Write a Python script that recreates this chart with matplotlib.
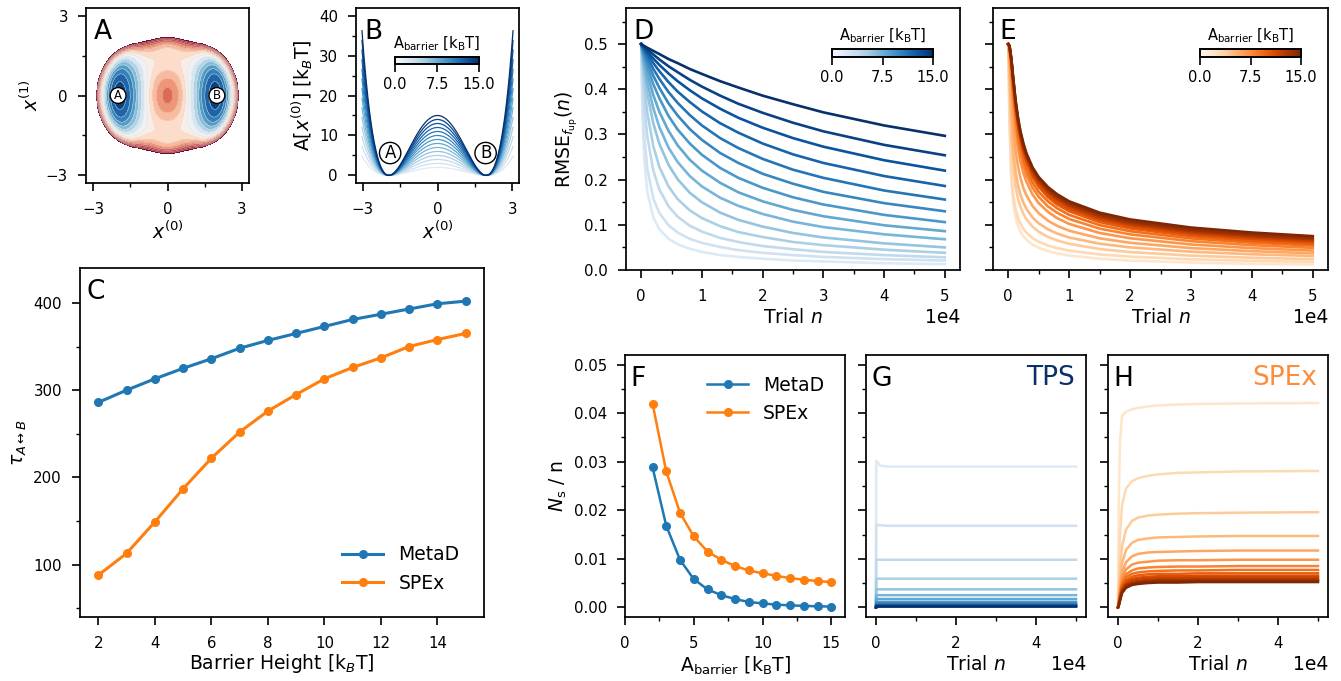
import numpy as np
import matplotlib
matplotlib.use("Agg")
import matplotlib.pyplot as plt
from matplotlib.ticker import MultipleLocator
from matplotlib.colors import Normalize
from matplotlib.cm import ScalarMappable

#%% data
barriers = [2, 3, 4, 5, 6, 7, 8, 9, 10, 11, 12, 13, 14, 15]

# panel C: round trip time
tau_metad = [286, 300, 313, 325, 336, 348, 357, 365, 373, 381, 387, 393, 399, 402]
tau_spex = [88, 113, 149, 187, 222, 252, 276, 295, 313, 326, 337, 350, 358, 365]

# panel F: N_s / n at the end of the run
ns_metad = [0.0289, 0.0168, 0.0098, 0.0058, 0.0037, 0.0025, 0.0017, 0.0011,
            0.0008, 0.00055, 0.0004, 0.0003, 0.0002, 0.00015]
ns_spex = [0.0420, 0.0280, 0.0195, 0.0146, 0.0115, 0.0098, 0.0085, 0.0076,
           0.0070, 0.0065, 0.0060, 0.0057, 0.0054, 0.0052]

# panel D: RMSE of f_up vs trial n, TPS (rows = barriers 2..15)
n_rmse_tps = [0, 200, 500, 1000, 2000, 3000, 4500, 6000, 8000, 10000, 13000,
              16000, 20000, 25000, 30000, 40000, 50000]
rmse_tps = [
    [.5, .345, .246, .174, .116, .090, .069, .057, .047, .040, .033, .029, .025, .021, .019, .015, .013],
    [.5, .388, .299, .225, .158, .126, .099, .083, .069, .060, .051, .044, .038, .033, .029, .024, .021],
    [.5, .435, .368, .296, .220, .178, .141, .118, .098, .085, .071, .062, .053, .046, .040, .033, .028],
    [.5, .458, .409, .349, .274, .228, .185, .157, .132, .115, .097, .084, .073, .062, .055, .045, .038],
    [.5, .473, .438, .391, .324, .279, .233, .201, .171, .150, .127, .111, .096, .082, .072, .059, .050],
    [.5, .480, .453, .415, .358, .316, .271, .239, .208, .185, .160, .142, .124, .107, .095, .079, .068],
    [.5, .485, .465, .435, .387, .350, .308, .276, .244, .220, .193, .172, .152, .133, .119, .099, .086],
    [.5, .489, .474, .451, .411, .380, .341, .311, .280, .255, .226, .204, .182, .161, .145, .122, .106],
    [.5, .492, .480, .462, .430, .403, .369, .342, .312, .288, .259, .237, .213, .191, .173, .148, .130],
    [.5, .494, .485, .471, .445, .423, .394, .370, .343, .320, .292, .270, .246, .222, .204, .176, .156],
    [.5, .495, .489, .478, .458, .440, .416, .395, .372, .351, .325, .304, .280, .256, .237, .208, .186],
    [.5, .497, .492, .483, .468, .454, .435, .418, .398, .380, .357, .337, .315, .292, .273, .243, .220],
    [.5, .498, .494, .488, .477, .466, .451, .438, .421, .406, .386, .368, .348, .326, .307, .277, .254],
    [.5, .498, .496, .492, .485, .478, .467, .458, .445, .434, .418, .404, .386, .367, .349, .320, .297],
]

# panel E: RMSE of f_up vs trial n, SPEx (rows = barriers 2..15)
n_rmse_spex = [0, 200, 500, 800, 1200, 1600, 2000, 2500, 3000, 4000, 5000,
               6500, 8000, 10000, 15000, 20000, 30000, 40000, 50000]
rmse_spex = [
    [.5, .331, .198, .149, .117, .098, .085, .075, .067, .056, .049, .042, .037, .032, .025, .021, .0164, .0137, .012],
    [.5, .343, .217, .168, .135, .116, .103, .091, .0825, .0706, .0626, .0543, .0485, .043, .0345, .0296, .0237, .0203, .018],
    [.5, .427, .293, .230, .185, .158, .140, .124, .112, .0958, .0848, .0734, .0655, .058, .0464, .0397, .0318, .0271, .024],
    [.5, .454, .335, .268, .218, .188, .167, .149, .135, .116, .1035, .0902, .0809, .072, .0582, .0501, .0405, .0348, .031],
    [.5, .480, .393, .323, .265, .229, .204, .181, .165, .1415, .1257, .1094, .0979, .087, .0701, .0602, .0485, .0417, .037],
    [.5, .491, .435, .372, .311, .270, .240, .214, .195, .167, .148, .129, .115, .102, .082, .0703, .0565, .0485, .043],
    [.5, .493, .447, .389, .330, .288, .258, .231, .211, .182, .162, .141, .127, .113, .0916, .0789, .0639, .055, .049],
    [.5, .494, .455, .403, .345, .303, .273, .245, .224, .194, .173, .152, .137, .122, .0994, .0859, .070, .0605, .054],
    [.5, .495, .463, .416, .360, .319, .288, .258, .238, .206, .184, .161, .145, .130, .106, .0919, .075, .0649, .058],
    [.5, .495, .464, .418, .363, .322, .291, .263, .2415, .210, .189, .166, .150, .135, .111, .0966, .0794, .0691, .0621],
    [.5, .496, .466, .422, .369, .328, .298, .269, .249, .217, .195, .172, .156, .140, .115, .101, .083, .0723, .065],
    [.5, .496, .467, .424, .371, .331, .301, .273, .252, .221, .199, .176, .160, .144, .119, .104, .0863, .0755, .068],
    [.5, .496, .468, .426, .374, .335, .305, .277, .256, .225, .203, .180, .164, .148, .123, .108, .0896, .0786, .071],
    [.5, .497, .470, .428, .377, .338, .308, .280, .258, .227, .206, .184, .168, .152, .127, .112, .094, .083, .075],
]

# panel G: TPS N_s / n vs trial n
n_tps = [0, 50, 300, 1000, 3000, 50000]
ns_run_tps = [
    [0, 0.0302, 0.0300, 0.0292, 0.0290, 0.0290],
    [0, 0.0171, 0.0170, 0.0169, 0.0168, 0.0168],
    [0, 0.0099, 0.0098, 0.0098, 0.0098, 0.0098],
    [0, 0.0059, 0.0059, 0.0059, 0.0059, 0.0059],
    [0, 0.0038, 0.0037, 0.0037, 0.0037, 0.0037],
    [0, 0.0025, 0.0025, 0.0025, 0.0025, 0.0025],
    [0, 0.0017, 0.0017, 0.0017, 0.0017, 0.0017],
    [0, 0.0011, 0.0011, 0.0011, 0.0011, 0.0011],
    [0, 0.0008, 0.0008, 0.0008, 0.0008, 0.0008],
    [0, 0.00055, 0.00055, 0.00055, 0.00055, 0.00055],
    [0, 0.0004, 0.0004, 0.0004, 0.0004, 0.0004],
    [0, 0.0003, 0.0003, 0.0003, 0.0003, 0.0003],
    [0, 0.0002, 0.0002, 0.0002, 0.0002, 0.0002],
    [0, 0.00015, 0.00015, 0.00015, 0.00015, 0.00015],
]

# panel H: SPEx N_s / n vs trial n
n_spex = [0, 200, 500, 1000, 2000, 3500, 5000, 7500, 10000, 15000, 20000, 30000, 50000]
ns_run_spex = [
    [0, 0.022, 0.034, 0.0395, 0.0403, 0.0408, 0.0411, 0.0414, 0.0416, 0.0418, 0.0419, 0.0420, 0.0421],
    [0, 0.008, 0.015, 0.021, 0.0245, 0.0260, 0.0266, 0.0271, 0.0274, 0.0277, 0.0278, 0.0280, 0.0281],
    [0, 0.004, 0.008, 0.0125, 0.0160, 0.0178, 0.0185, 0.0189, 0.0191, 0.0193, 0.0194, 0.0195, 0.0196],
    [0, 0.002, 0.005, 0.009, 0.0118, 0.0133, 0.0139, 0.0142, 0.0144, 0.0145, 0.0146, 0.0147, 0.0147],
    [0, 0.0015, 0.004, 0.007, 0.0093, 0.0105, 0.0110, 0.0113, 0.0114, 0.0115, 0.0116, 0.0117, 0.0117],
    [0, 0.0012, 0.0033, 0.006, 0.0078, 0.0088, 0.0092, 0.0094, 0.0096, 0.0097, 0.0097, 0.0098, 0.0098],
    [0, 0.0010, 0.0028, 0.0052, 0.0068, 0.0076, 0.0080, 0.0082, 0.0083, 0.0084, 0.0084, 0.0085, 0.0085],
    [0, 0.0009, 0.0025, 0.0047, 0.0062, 0.0069, 0.0072, 0.0074, 0.0075, 0.0076, 0.0076, 0.0077, 0.0077],
    [0, 0.0008, 0.0022, 0.0042, 0.0056, 0.0063, 0.0066, 0.0068, 0.0069, 0.0069, 0.0070, 0.0070, 0.0070],
    [0, 0.0007, 0.0020, 0.0039, 0.0052, 0.0058, 0.0061, 0.0063, 0.0064, 0.0064, 0.0065, 0.0065, 0.0065],
    [0, 0.0006, 0.0018, 0.0036, 0.0048, 0.0054, 0.0057, 0.0059, 0.0060, 0.0060, 0.0061, 0.0061, 0.0061],
    [0, 0.0005, 0.0016, 0.0033, 0.0045, 0.0050, 0.0053, 0.0055, 0.0056, 0.0056, 0.0057, 0.0057, 0.0057],
    [0, 0.0004, 0.0015, 0.0031, 0.0043, 0.0048, 0.0051, 0.0053, 0.0054, 0.0054, 0.0055, 0.0055, 0.0055],
    [0, 0.0003, 0.0013, 0.0029, 0.0040, 0.0046, 0.0048, 0.0050, 0.0051, 0.0051, 0.0052, 0.0052, 0.0052],
]

# model potential used for the sketches in A and B
pot_a, pot_kappa, pot_c, pot_sig2, pot_s2 = 0.77, 0.25, 0.12, 2.22, 2.0
wall_ax, wall_ay, wall_delta, pot_cut = 3.03, 2.44, 0.09, 1.0
well_w, wall_k = 1.95, 0.0855

#%% style
plt.rcParams.update({
    "font.size": 10.8,
    "axes.labelsize": 13.5,
    "axes.labelpad": 3,
    "xtick.labelsize": 10.8,
    "ytick.labelsize": 10.8,
    "axes.linewidth": 1.25,
    "xtick.major.size": 5.5, "ytick.major.size": 5.5,
    "xtick.minor.size": 3.2, "ytick.minor.size": 3.2,
    "xtick.major.width": 1.2, "ytick.major.width": 1.2,
    "xtick.minor.width": 1.0, "ytick.minor.width": 1.0,
    "xtick.major.pad": 8, "ytick.major.pad": 7.5,
    "legend.fontsize": 13.5,
})

W, H = 1341, 681
fig = plt.figure(figsize=(W / 100, H / 100), dpi=100)


def add_ax(x0, y0, x1, y1, **kw):
    # pixel box (left, top, right, bottom) -> figure fraction
    return fig.add_axes([x0 / W, 1 - y1 / H, (x1 - x0) / W, (y1 - y0) / H], **kw)


def panel_label(ax, s, dx=4.5):
    ax.annotate(s, xy=(0, 1), xycoords="axes fraction", xytext=(dx, -8),
                textcoords="offset points", ha="left", va="top", fontsize=19)


def add_cbar(x0, y0, x1, y1, cmap):
    cax = add_ax(x0, y0, x1, y1)
    cb = fig.colorbar(ScalarMappable(norm=Normalize(0, 15), cmap=cmap), cax=cax,
                      orientation="horizontal")
    cb.set_ticks([0, 7.5, 15])
    cb.ax.tick_params(labelsize=10.5, length=6, width=1.2, pad=3.5)
    cb.outline.set_linewidth(1.4)
    cb.set_label(r"A$_{\rm barrier}$ [k$_{\rm B}$T]", fontsize=10.5, labelpad=6)
    cb.ax.xaxis.set_label_position("top")
    return cb


norm = Normalize(0, 15)
blues = plt.get_cmap("Blues")
oranges = plt.get_cmap("Oranges")
lab_barrier = r"A$_{\rm barrier}$ [k$_{\rm B}$T]"

#%% A: 2D potential
axA = add_ax(86, 8, 249, 183)
xg = np.linspace(-3.3, 3.3, 400)
X0, X1 = np.meshgrid(xg, xg)
u = X0**2 / 4
centre = np.exp(-X0**2 / pot_s2)
barrier = pot_a * (u - 1)**2 * (1 - pot_kappa * u)
barrier = barrier * (centre * np.exp(-X1**2 / pot_sig2) + (1 - centre))
rho = np.sqrt((X0 / wall_ax)**2 + (X1 / wall_ay)**2)
V = barrier + pot_c * X1**2 + np.exp((rho - 1) / wall_delta)
V = np.where(V <= pot_cut, V, np.nan)
levs = np.linspace(0, pot_cut, 17)
axA.contourf(X0, X1, V, levels=levs, cmap="RdBu_r")
axA.contour(X0, X1, V, levels=levs, colors="0.88", linewidths=0.3)
axA.set_xlim(-3.3, 3.3)
axA.set_ylim(-3.3, 3.3)
axA.set_xticks([-3, 0, 3])
axA.set_yticks([-3, 0, 3])
axA.xaxis.set_minor_locator(MultipleLocator(1.5))
axA.yaxis.set_minor_locator(MultipleLocator(1.5))
axA.set_xlabel(r"$x^{(0)}$")
axA.set_ylabel(r"$x^{(1)}$")
for xc, s in [(-2, "A"), (2, "B")]:
    axA.text(xc, 0, s, ha="center", va="center", fontsize=8.5,
             bbox=dict(boxstyle="circle,pad=0.12", fc="white", ec="black", lw=1))
panel_label(axA, "A", dx=5.5)

#%% B: 1D potential for each barrier height
axB = add_ax(356, 8, 519, 183)
xb = np.linspace(-3.03, 3.03, 300)
ub = xb**2 / well_w**2
for h in barriers:
    axB.plot(xb, h * (ub - 1)**2 * (1 + wall_k * ub), color=blues(norm(h)), lw=0.9)
axB.set_xlim(-3.27, 3.27)
axB.set_ylim(-1.9, 41.9)
axB.set_xticks([-3, 0, 3])
axB.set_yticks([0, 10, 20, 30, 40])
axB.xaxis.set_minor_locator(MultipleLocator(1.5))
axB.yaxis.set_minor_locator(MultipleLocator(5))
axB.set_xlabel(r"$x^{(0)}$")
axB.set_ylabel(r"A[$x^{(0)}$] [k$_B$T]")
for xc, s in [(-1.9, "A"), (1.93, "B")]:
    axB.text(xc, 5.6, s, ha="center", va="center", fontsize=12,
             bbox=dict(boxstyle="circle,pad=0.1", fc="white", ec="black", lw=1))
panel_label(axB, "B", dx=6)
add_cbar(395, 57, 479, 63.5, "Blues")

#%% C: round trip time
axC = add_ax(80, 268, 484, 617)
axC.plot(barriers, tau_metad, "-o", color="C0", lw=2.2, ms=5.5, label="MetaD")
axC.plot(barriers, tau_spex, "-o", color="C1", lw=2.2, ms=5.5, label="SPEx")
axC.set_ylim(40, 440)
axC.set_xticks([2, 4, 6, 8, 10, 12, 14])
axC.set_yticks([100, 200, 300, 400])
axC.yaxis.set_minor_locator(MultipleLocator(50))
axC.set_xlabel(r"Barrier Height [k$_B$T]", labelpad=1)
axC.set_ylabel(r"$\tau_{A \leftrightarrow B}$")
axC.legend(loc="lower right", frameon=False, handlelength=2.2, borderaxespad=0.9)
panel_label(axC, "C", dx=5)

#%% D, E: RMSE curves
axD = add_ax(626, 8, 960, 270)
axE = add_ax(993, 8, 1328, 270, sharey=axD)
for h, row in zip(barriers, rmse_tps):
    axD.plot(n_rmse_tps, row, color=blues(norm(h)), lw=1.9)
for h, row in zip(barriers, rmse_spex):
    axE.plot(n_rmse_spex, row, color=oranges(norm(h)), lw=1.9)
for ax in (axD, axE):
    ax.set_ylim(0, 0.58)
    ax.xaxis.set_major_locator(MultipleLocator(10000))
    ax.xaxis.set_minor_locator(MultipleLocator(5000))
    ax.yaxis.set_major_locator(MultipleLocator(0.1))
    ax.yaxis.set_minor_locator(MultipleLocator(0.05))
    ax.ticklabel_format(axis="x", style="sci", scilimits=(0, 0))
    ax.xaxis.get_offset_text().set_fontsize(13.5)
    ax.set_xlabel(r"Trial $n$")
axD.set_ylabel(r"RMSE$_{f_{\rm up}}(n)$")
plt.setp(axE.get_yticklabels(), visible=False)
panel_label(axD, "D", dx=5)
panel_label(axE, "E", dx=4.5)
add_cbar(832, 48.7, 933, 57.3, "Blues")
add_cbar(1200, 48.7, 1301, 57.3, "Oranges")

#%% F: N_s / n vs barrier
axF = add_ax(625, 355, 845, 617)
axF.plot(barriers, ns_metad, "-o", color="C0", lw=1.8, ms=5.5, label="MetaD")
axF.plot(barriers, ns_spex, "-o", color="C1", lw=1.8, ms=5.5, label="SPEx")
axF.set_xlim(0, 16)
axF.set_ylim(-0.002, 0.052)
axF.xaxis.set_major_locator(MultipleLocator(5))
axF.xaxis.set_minor_locator(MultipleLocator(2.5))
axF.yaxis.set_major_locator(MultipleLocator(0.01))
axF.yaxis.set_minor_locator(MultipleLocator(0.005))
axF.set_xlabel(lab_barrier)
axF.set_ylabel(r"$N_{\rm s}$ / n")
axF.legend(loc="upper right", frameon=False, handlelength=2.2, borderaxespad=0.7)
panel_label(axF, "F", dx=4)

#%% G, H: N_s / n vs trial
axG = add_ax(866, 355, 1086, 617, sharey=axF)
axH = add_ax(1108, 355, 1328, 617, sharey=axF)
for h, row in zip(barriers, ns_run_tps):
    axG.plot(n_tps, row, color=blues(norm(h)), lw=1.8)
for h, row in zip(barriers, ns_run_spex):
    axH.plot(n_spex, row, color=oranges(norm(h)), lw=1.8)
for ax in (axG, axH):
    ax.xaxis.set_major_locator(MultipleLocator(20000))
    ax.xaxis.set_minor_locator(MultipleLocator(10000))
    ax.ticklabel_format(axis="x", style="sci", scilimits=(0, 0))
    ax.xaxis.get_offset_text().set_fontsize(13.5)
    ax.set_xlabel(r"Trial $n$")
    plt.setp(ax.get_yticklabels(), visible=False)
axG.text(0.95, 0.96, "TPS", transform=axG.transAxes, ha="right", va="top",
         fontsize=19, color=blues(1.0))
axH.text(0.95, 0.96, "SPEx", transform=axH.transAxes, ha="right", va="top",
         fontsize=19, color=oranges(0.5))
panel_label(axG, "G", dx=4)
panel_label(axH, "H", dx=4)

fig.savefig("out.png", dpi=100)
